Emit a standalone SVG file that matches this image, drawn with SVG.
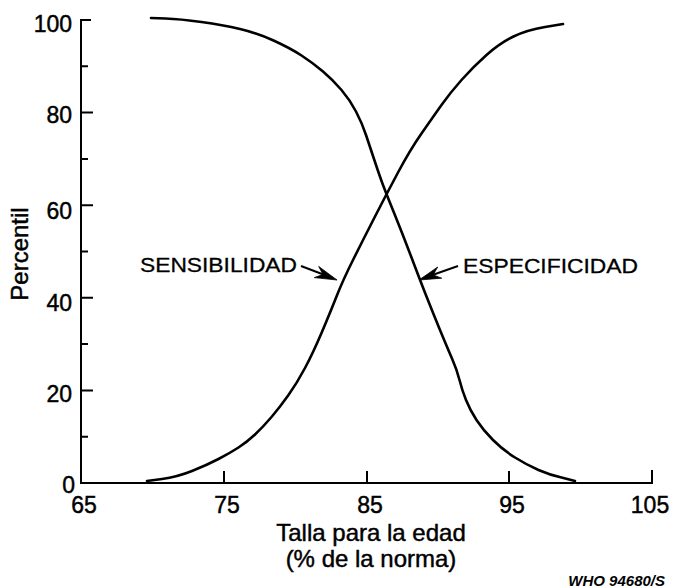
<svg xmlns="http://www.w3.org/2000/svg" width="676" height="588" viewBox="0 0 676 588">
<style>
text{font-family:"Liberation Sans",Arial,sans-serif;fill:#000;stroke:#000;stroke-width:0.45}
.tick{font-size:23px}
.yl{text-anchor:end}
.xl{text-anchor:middle}
.title{font-size:24px;text-anchor:middle}
.lab{font-size:21px;stroke-width:0.3}
.ax{stroke:#000;stroke-width:2;fill:none;stroke-linecap:butt}
.curve{stroke:#000;stroke-width:2.6;fill:none;stroke-linejoin:round;stroke-linecap:round}
.arr{stroke:#000;stroke-width:2;fill:none}
.head{fill:#000;stroke:#000;stroke-width:0.8;stroke-linejoin:miter}
</style>
<rect width="676" height="588" fill="#fff"/>
<g id="axes">
<path class="ax" d="M91,20 H81 V483 H652 V470"/>
<path class="ax" d="M81,66.3 H88 M81,112.6 H93 M81,159 H88 M81,205.2 H93 M81,251.5 H88 M81,297.8 H93 M81,344 H88 M81,390.4 H93 M81,436.7 H88"/>
<path class="ax" d="M224,483 V471 M367,483 V471 M509,483 V471"/>
</g>
<g id="tick-labels" class="tick">
<text class="yl" x="72" y="32">100</text>
<text class="yl" x="72" y="123">80</text>
<text class="yl" x="72" y="219">60</text>
<text class="yl" x="72" y="311">40</text>
<text class="yl" x="72" y="402">20</text>
<text class="yl" x="75" y="493">0</text>
<text class="xl" x="84" y="513">65</text>
<text class="xl" x="227" y="513">75</text>
<text class="xl" x="370" y="513">85</text>
<text class="xl" x="512" y="513">95</text>
<text class="xl" x="650" y="513">105</text>
</g>
<g id="axis-titles">
<text class="title" transform="translate(28,254) rotate(-90)" x="0" y="0">Percentil</text>
<text class="title" x="371" y="541">Talla para la edad</text>
<text class="title" x="371" y="567">(% de la norma)</text>
</g>
<g id="connectors">
<path id="especificidad-curve" class="curve" d="M151,18 L165.5,18.5 Q180,19 201.5,22 Q223,25 240,29 Q257,33 273.5,40.5 Q290,48 301.5,55.5 Q313,63 323,71.5 Q333,80 341.5,90 Q350,100 356,111.5 Q362,123 366,135 Q370,147 375,162 Q380,177 383,185 Q386,193 394.5,214 Q403,235 411.5,257.5 Q420,280 426.5,296.5 Q433,313 440,330 Q447,347 452,358.5 Q457,370 459.5,380 Q462,390 466,400 Q470,410 476.5,420 Q483,430 493,440 Q503,450 515,457.5 Q527,465 538.5,470 Q550,475 561.5,477.5 L575,481"/>
<path id="sensibilidad-curve" class="curve" d="M147,481 L162,479 Q177,477 192,471 Q207,465 218.5,459 Q230,453 238.5,447.5 Q247,442 255,434.5 Q263,427 271.5,417 Q280,407 288.5,395 Q297,383 305,368 Q313,353 321.5,333 Q330,313 336.5,296.5 Q343,280 353,260 Q363,240 374.5,217.5 Q386,195 398,172.5 Q410,150 421.5,133.5 Q433,117 441.5,105 Q450,93 461.5,80 Q473,67 486.5,55 Q500,43 513.5,36.5 Q527,30 545,27 L563,24"/>
<path class="arr" d="M301,266 L326,275.5"/>
<polygon class="head" points="337,280 318.7,266.4 323,274.6 314.3,277.6"/>
<path class="arr" d="M458,266 L431,275.5"/>
<polygon class="head" points="419,280 437.7,267 433.1,274.9 441.7,278.2"/>
</g>
<g id="sensibilidad">
<text class="lab" x="140" y="272" textLength="157" lengthAdjust="spacingAndGlyphs">SENSIBILIDAD</text>
</g>
<g id="especificidad">
<text class="lab" x="463" y="273" textLength="175" lengthAdjust="spacingAndGlyphs">ESPECIFICIDAD</text>
</g>
<g id="credit">
<text x="665" y="586" style="font-size:15px;font-style:italic;font-weight:bold;text-anchor:end;stroke-width:0">WHO 94680/S</text>
</g>
</svg>
